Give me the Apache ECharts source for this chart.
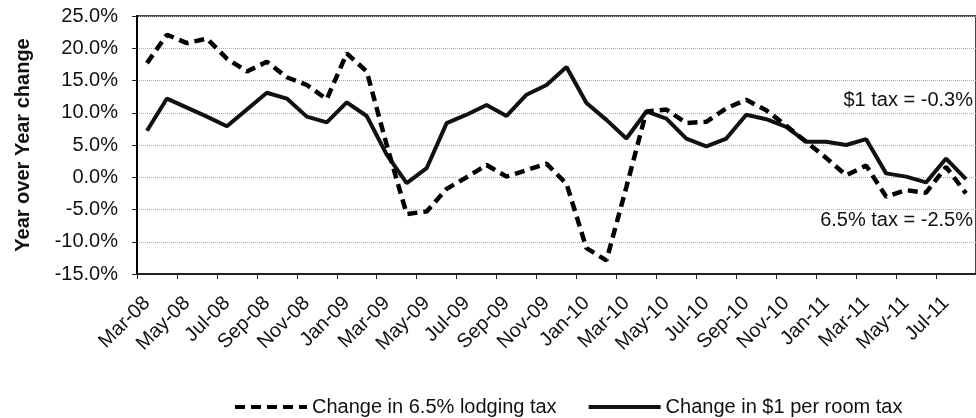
<!DOCTYPE html>
<html>
<head>
<meta charset="utf-8">
<script src="https://cdn.jsdelivr.net/npm/echarts@6/dist/echarts.min.js"></script>
<style>
  html, body { margin: 0; padding: 0; background: #fff; }
  #chart { width: 976px; height: 418px; }
</style>
</head>
<body>
<div id="chart"></div>
<script>
// months Mar-08 .. Aug-11
var months = [
  'Mar-08','Apr-08','May-08','Jun-08','Jul-08','Aug-08','Sep-08','Oct-08','Nov-08','Dec-08',
  'Jan-09','Feb-09','Mar-09','Apr-09','May-09','Jun-09','Jul-09','Aug-09','Sep-09','Oct-09',
  'Nov-09','Dec-09','Jan-10','Feb-10','Mar-10','Apr-10','May-10','Jun-10','Jul-10','Aug-10',
  'Sep-10','Oct-10','Nov-10','Dec-10','Jan-11','Feb-11','Mar-11','Apr-11','May-11','Jun-11',
  'Jul-11','Aug-11'
];

// Change in 6.5% lodging tax (%)
var lodgingTax = [
  17.7, 22.1, 20.8, 21.5, 18.4, 16.4, 17.9, 15.5, 14.3, 12.1,
  19.2, 16.4, 5.0, -5.7, -5.3, -1.8, 0.0, 1.9, 0.1, 1.1,
  2.1, -1.0, -11.0, -12.9, -1.5, 10.2, 10.5, 8.4, 8.6, 10.7,
  12.0, 10.4, 8.0, 5.5, 3.0, 0.3, 1.8, -3.0, -2.0, -2.4,
  1.6, -2.5
];

// Change in $1 per room tax (%)
var roomTax = [
  7.2, 12.2, 10.8, 9.4, 7.9, 10.5, 13.1, 12.2, 9.4, 8.5,
  11.6, 9.5, 3.5, -0.9, 1.4, 8.4, 9.7, 11.2, 9.5, 12.8,
  14.3, 17.1, 11.5, 8.9, 6.0, 10.2, 9.1, 6.0, 4.8, 6.0,
  9.7, 9.0, 7.8, 5.5, 5.5, 5.0, 5.9, 0.6, 0.1, -0.8,
  2.9, -0.3
];

var seriesNames = ['Change in 6.5% lodging tax', 'Change in $1 per room tax'];
var notes = ['$1 tax = -0.3%', '6.5% tax = -2.5%'];

var font = '"Liberation Sans", Arial, sans-serif';

var myChart = echarts.init(document.getElementById('chart'));
var option = {
  animation: false,
  backgroundColor: '#fff',
  textStyle: { fontFamily: font, color: '#111' },
  grid: {
    left: 137, top: 16, width: 848, height: 258,
    show: true, borderColor: '#444', borderWidth: 2, backgroundColor: 'transparent'
  },
  legend: {
    data: seriesNames,
    left: 228, top: 392,
    itemWidth: 72, itemHeight: 14, itemGap: 30,
    itemStyle: { opacity: 0 },
    lineStyle: { width: 4 },
    textStyle: { fontSize: 20, fontFamily: font, color: '#111' }
  },
  xAxis: {
    type: 'category',
    data: months,
    boundaryGap: true,
    axisLine: { onZero: false, lineStyle: { color: '#222', width: 2 } },
    axisTick: { show: true, interval: 1, length: 5, lineStyle: { color: '#222', width: 1 } },
    axisLabel: {
      interval: 1, rotate: 45, margin: 26,
      fontSize: 20, fontFamily: font, color: '#111'
    },
    splitLine: { show: false }
  },
  yAxis: {
    type: 'value',
    min: -15, max: 25, interval: 5,
    name: 'Year over Year change',
    nameLocation: 'middle', nameRotate: 90, nameGap: 104,
    nameTextStyle: { fontSize: 20, fontWeight: 'bold', fontFamily: font, color: '#111' },
    axisLine: { show: true, lineStyle: { color: '#000', width: 2 } },
    axisTick: { show: true, length: 5, lineStyle: { color: '#222' } },
    axisLabel: {
      margin: 19, fontSize: 20, fontFamily: font, color: '#111',
      formatter: function (v) { return v.toFixed(1) + '%'; }
    },
    splitLine: { show: true, lineStyle: { color: '#aaa', type: 'dotted', width: 1 } }
  },
  graphic: [
    {
      type: 'text', z: 10,
      style: { text: notes[0], x: 973, y: 100, align: 'right', verticalAlign: 'middle',
        fontSize: 20, fontFamily: font, fill: '#111' }
    },
    {
      type: 'text', z: 10,
      style: { text: notes[1], x: 973, y: 220, align: 'right', verticalAlign: 'middle',
        fontSize: 20, fontFamily: font, fill: '#111' }
    }
  ],
  series: [
    {
      name: seriesNames[0],
      type: 'line',
      data: lodgingTax,
      symbol: 'none',
      lineStyle: { color: '#000', width: 4.5, type: [10, 6] },
      itemStyle: { color: '#000' },
      z: 3
    },
    {
      name: seriesNames[1],
      type: 'line',
      data: roomTax,
      symbol: 'none',
      lineStyle: { color: '#111', width: 4 },
      itemStyle: { color: '#111' },
      z: 2
    }
  ]
};
myChart.setOption(option);
</script>
</body>
</html>
